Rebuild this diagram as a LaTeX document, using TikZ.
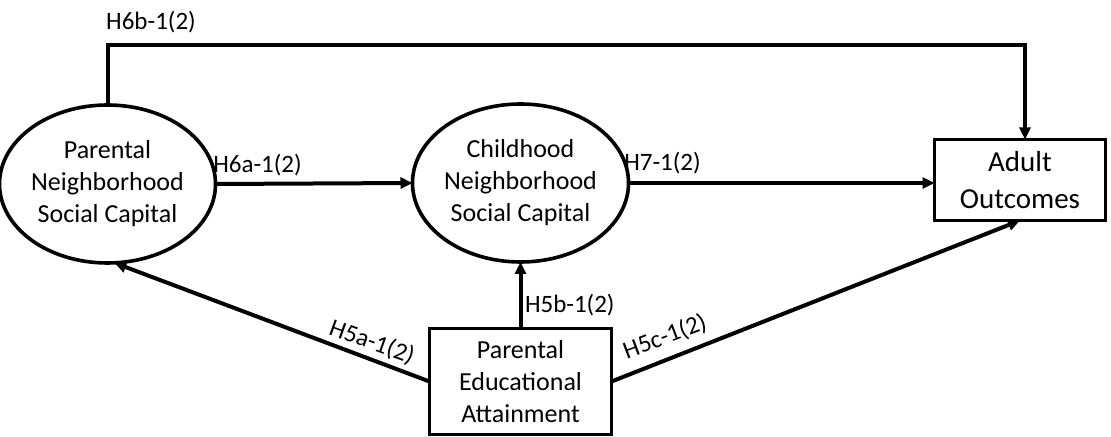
\documentclass[tikz,border=0pt]{standalone}
\usepackage{fontspec}
\setmainfont{Carlito}
\usetikzlibrary{arrows.meta,shapes.geometric}
\begin{document}
\begin{tikzpicture}[x=0.5pt,y=0.5pt,
  every node/.style={inner sep=0pt,outer sep=0pt},
  oval/.style={draw,line width=1.8pt,ellipse,minimum width=95.5pt,minimum height=79pt,align=center,font=\fontsize{13}{16}\selectfont},
  sbox/.style={draw,line width=1.8pt,rectangle,align=center},
  arr/.style={line width=2pt,-{Triangle[length=6pt,width=5.5pt]}},
  lbl/.style={font=\fontsize{12.5}{15}\selectfont}]
\useasboundingbox (0,0) rectangle (1111,-437);
\node[oval] (pnsc) at (107.5,-184) {Parental\\Neighborhood\\Social Capital};
\node[oval] (cnsc) at (520.5,-183) {Childhood\\Neighborhood\\Social Capital};
\node[sbox,minimum width=85.5pt,minimum height=40.5pt,font=\fontsize{14.5}{18.5}\selectfont] (ao) at (1020,-180) {Adult\\Outcomes};
\node[sbox,minimum width=91pt,minimum height=53pt,font=\fontsize{13}{16}\selectfont] (pea) at (520.5,-381.5) {Parental\\Educational\\Attainment};
\coordinate (tl) at (107.5,-45);
\coordinate (tr) at (1025,-45);
\draw[arr,line join=miter] (pnsc.north) -- (tl) -- (tr) -- (tr |- ao.north);
\draw[arr] (pnsc.east) -- (cnsc.west);
\draw[arr] (cnsc.east) -- (cnsc.east -| ao.west);
\draw[arr] (pea.west) -- (pnsc.-85);
\draw[arr] (pea.north) -- (cnsc.south);
\draw[arr] (pea.east) -- (ao.south);
\node[lbl] (l6b) at (151,-22) {H6b-1(2)};
\node[lbl] (l6a) at (257.5,-165) {H6a-1(2)};
\node[lbl] (l7) at (662.5,-163) {H7-1(2)};
\node[lbl,anchor=west] (l5b) at (525,-305) {H5b-1(2)};
\node[lbl,rotate=-19.7] (l5a) at (372,-342) {H5a-1(2)};
\node[lbl,rotate=20.7] (l5c) at (665,-337) {H5c-1(2)};
\end{tikzpicture}
\end{document}
